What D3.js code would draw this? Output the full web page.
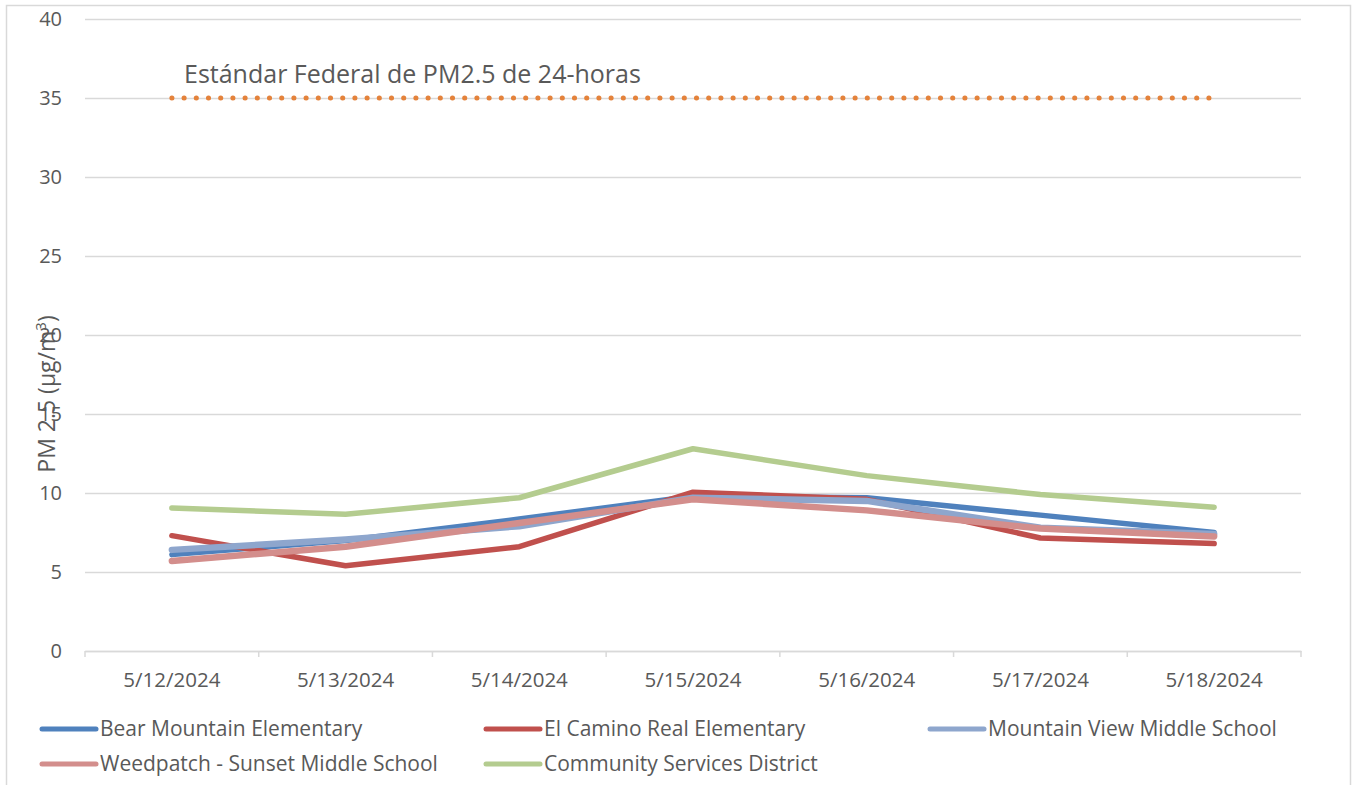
<!DOCTYPE html>
<html>
<head>
<meta charset="utf-8">
<script src="https://cdn.jsdelivr.net/npm/d3@7"></script>
<style>
  body { margin: 0; background: #fff; }
  svg { display: block; font-family: 'Open Sans', sans-serif; }
</style>
</head>
<body>
<svg id="chart" width="1352" height="785"></svg>
<script>
const dates = ['5/12/2024', '5/13/2024', '5/14/2024', '5/15/2024', '5/16/2024', '5/17/2024', '5/18/2024'];
const yTicks = [0, 5, 10, 15, 20, 25, 30, 35, 40];

const bearMountain = [6.1, 7.0, 8.35, 9.8, 9.7, 8.6, 7.5];
const elCamino = [7.3, 5.4, 6.6, 10.05, 9.6, 7.15, 6.8];
const mountainView = [6.4, 7.05, 7.9, 9.7, 9.5, 7.8, 7.4];
const weedpatch = [5.7, 6.6, 8.1, 9.6, 8.9, 7.75, 7.25];
const community = [9.05, 8.65, 9.7, 12.8, 11.1, 9.9, 9.1];
const federalStandard = [35, 35, 35, 35, 35, 35, 35];
const standardLabel = 'Estándar Federal de PM2.5 de 24-horas';

const series = [
    { name: 'Bear Mountain Elementary', values: bearMountain, color: '#4f81bd', width: 5.5 },
    { name: 'El Camino Real Elementary', values: elCamino, color: '#c0504d', width: 5.5 },
    { name: 'Mountain View Middle School', values: mountainView, color: '#8ea6cd', width: 6.5 },
    { name: 'Weedpatch - Sunset Middle School', values: weedpatch, color: '#d38e8c', width: 6.5 },
    { name: 'Community Services District', values: community, color: '#b4cc8f', width: 5.5 },
];

const margin = { left: 85, right: 51, top: 19, bottom: 134 };
const width = 1352, height = 785;
const svg = d3.select('#chart');
const textColor = '#595959';
const gridColor = '#d9d9d9';
const fontFamily = "'Open Sans', sans-serif";

// outer frame
svg.append('rect')
    .attr('x', 6.5).attr('y', 5.5)
    .attr('width', 1344).attr('height', 800)
    .attr('fill', 'none')
    .attr('stroke', gridColor)
    .attr('stroke-width', 1.5);

const xScale = d3.scaleBand()
    .domain(dates)
    .range([margin.left, width - margin.right]);

const yScale = d3.scaleLinear()
    .domain([0, 40])
    .range([height - margin.bottom, margin.top]);

const cx = d => xScale(d) + xScale.bandwidth() / 2;

// gridlines + y labels
const yAxis = svg.append('g')
    .attr('transform', `translate(${margin.left}, 0)`)
    .call(d3.axisLeft(yScale).tickValues(yTicks).tickSize(-(width - margin.left - margin.right)).tickPadding(23));
yAxis.attr('font-family', fontFamily);
yAxis.select('.domain').remove();
yAxis.selectAll('.tick line').attr('stroke', gridColor).attr('stroke-width', 1.5);
yAxis.selectAll('.tick text')
    .attr('fill', textColor)
    .style('font-size', '20px');

// x axis
const xAxis = svg.append('g')
    .attr('transform', `translate(0, ${yScale(0)})`)
    .call(d3.axisBottom(xScale).tickSize(0).tickPadding(21));
xAxis.attr('font-family', fontFamily);
xAxis.select('.domain').attr('stroke', gridColor).attr('stroke-width', 1.5);
xAxis.selectAll('.tick text')
    .attr('fill', textColor)
    .style('font-size', '20.5px');

// tick marks at band boundaries
const bounds = dates.map(d => xScale(d)).concat([xScale(dates[dates.length - 1]) + xScale.bandwidth()]);
svg.append('g').selectAll('line')
    .data(bounds)
    .join('line')
    .attr('x1', d => d).attr('x2', d => d)
    .attr('y1', yScale(0)).attr('y2', yScale(0) + 6)
    .attr('stroke', gridColor)
    .attr('stroke-width', 1.5);

// y axis title
svg.append('text')
    .attr('transform', `translate(55, 394) rotate(-90)`)
    .attr('text-anchor', 'middle')
    .attr('fill', textColor)
    .style('font-size', '23px')
    .html('PM 2.5 (µg/m<tspan dy="-9" font-size="15">3</tspan><tspan dy="9">)</tspan>');

// federal standard dotted line
svg.append('path')
    .datum(federalStandard)
    .attr('d', d3.line().x((d, i) => cx(dates[i])).y(d => yScale(d)))
    .attr('fill', 'none')
    .attr('stroke', '#e4823b')
    .attr('stroke-width', 5)
    .attr('stroke-linecap', 'round')
    .attr('stroke-dasharray', '0.1 12.1');

svg.append('text')
    .attr('x', 184)
    .attr('y', yScale(35) - 15)
    .attr('fill', textColor)
    .style('font-size', '25px')
    .text(standardLabel);

// series lines
const line = d3.line()
    .x((d, i) => cx(dates[i]))
    .y(d => yScale(d));

svg.append('g').selectAll('path')
    .data(series)
    .join('path')
    .attr('d', d => line(d.values))
    .attr('fill', 'none')
    .attr('stroke', d => d.color)
    .attr('stroke-width', d => d.width)
    .attr('stroke-linecap', 'round')
    .attr('stroke-linejoin', 'round');

// legend
const legendPos = [
    { x: 42, y: 729 }, { x: 486, y: 729 }, { x: 930, y: 729 },
    { x: 42, y: 764 }, { x: 486, y: 764 }
];
const legend = svg.append('g').selectAll('g')
    .data(series)
    .join('g')
    .attr('transform', (d, i) => `translate(${legendPos[i].x}, ${legendPos[i].y})`);
legend.append('line')
    .attr('x1', 0).attr('x2', 54)
    .attr('stroke', d => d.color)
    .attr('stroke-width', 5)
    .attr('stroke-linecap', 'round');
legend.append('text')
    .attr('x', 58)
    .attr('dy', '0.35em')
    .attr('fill', textColor)
    .style('font-size', '21px')
    .text(d => d.name);
</script>
</body>
</html>
